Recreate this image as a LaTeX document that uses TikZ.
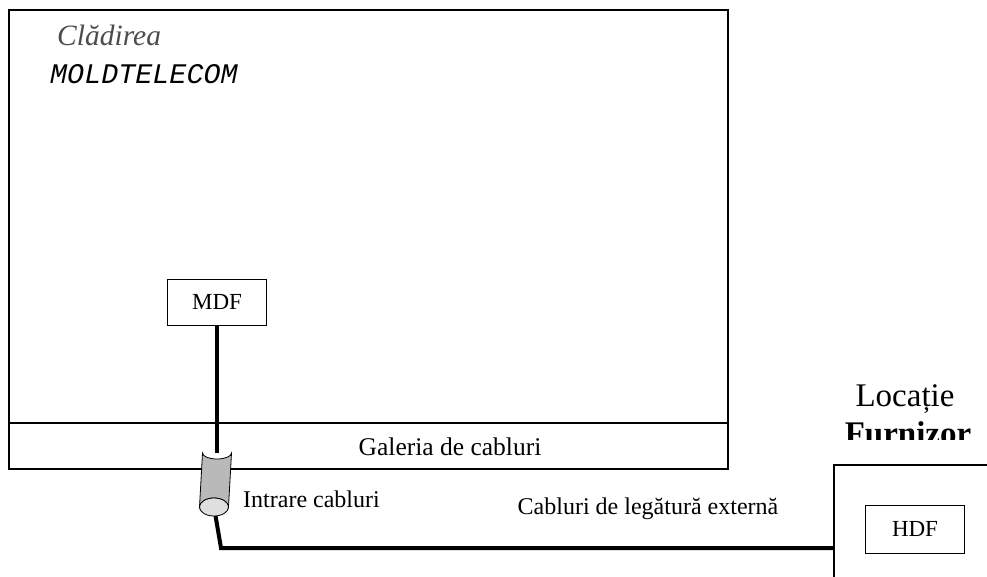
\documentclass[tikz,border=0pt]{standalone}
\usepackage{fontspec}
\setmainfont{Liberation Serif}
\setmonofont{Liberation Mono}
\tikzset{
  frame/.style={line width=1.2pt},
  devbox/.style={draw, line width=1pt, inner sep=0pt, minimum width=99pt, font=\fontsize{23}{23}\selectfont},
  cable/.style={line width=4pt},
  lbl/.style={inner sep=0pt, anchor=base, font=\fontsize{24}{24}\selectfont},
}
\begin{document}
\begin{tikzpicture}[x=1pt,y=-1pt]
    \useasboundingbox (0,0) rectangle (987,576);
    \clip (0,0) rectangle (987,576);
    % cladirea
    \draw[frame] (9,10) rectangle (728,469);
    \draw[frame] (9,423) -- (728,423);
    \node[anchor=base west, inner sep=0pt, gray!60!black, font=\fontsize{29.5}{29.5}\selectfont\itshape] (bldg) at (57,45) {Clădirea};
    \node[anchor=base west, inner sep=0pt, font=\fontsize{28.4}{28.4}\selectfont\ttfamily\itshape] (moldt) at (50,83) {MOLDTELECOM};
    \node[lbl, font=\fontsize{25.5}{25.5}\selectfont] (galeria) at (450,455) {Galeria de cabluri};
    \node[devbox, minimum height=46pt] (mdf) at (217,302) {MDF};
    % furnizor
    \draw[frame] (1000,465) -| (834,600);
    \node[inner sep=0pt, anchor=base, font=\fontsize{33}{33}\selectfont] (loc) at (905,406) {Locație};
    \begin{scope}
        \clip (820,410) rectangle (987,439);
        \node[inner sep=0pt, anchor=base, font=\fontsize{33}{33}\selectfont\bfseries] (furn) at (908,444) {Furnizor};
    \end{scope}
    \node[devbox, minimum height=48pt] (hdf) at (915,529) {HDF};
    % cabluri
    \coordinate (cyltop) at (217,453);
    \coordinate (cylbot) at (214,507);
    \coordinate (bend) at (221,548);
    \coordinate (feed) at (834,548);
    \draw[cable] (mdf.south) -- (cyltop);
    \draw[cable] (cylbot) -- (bend) -- (feed);
    \draw[fill=gray!55, line width=0.8pt] ([xshift=-14.5pt]cyltop) -- ([xshift=-14.5pt]cylbot)
        arc[start angle=180, end angle=360, x radius=14.5, y radius=9]
        -- ([xshift=14.5pt]cyltop)
        arc[start angle=0, end angle=180, x radius=14.5, y radius=6] -- cycle;
    \draw[fill=gray!25, line width=0.8pt] (cylbot) ellipse[x radius=14.5, y radius=9];
    \node[lbl, anchor=base west] (intrare) at (243,507) {Intrare cabluri};
    \node[lbl] (extern) at (648,514) {Cabluri de legătură externă};
\end{tikzpicture}
\end{document}
